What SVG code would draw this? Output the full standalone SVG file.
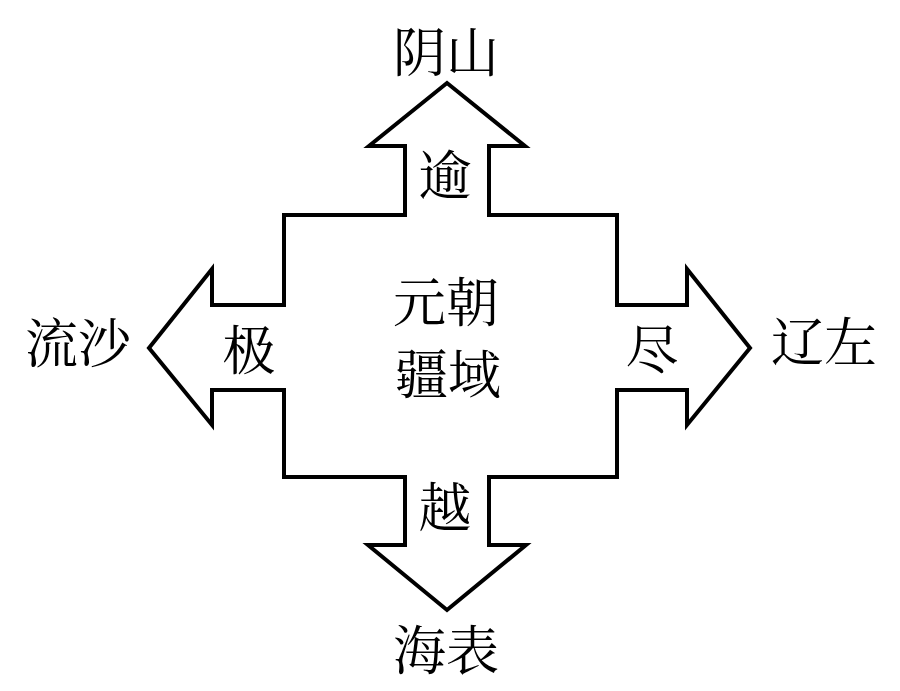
<svg xmlns="http://www.w3.org/2000/svg" width="900" height="691" viewBox="0 0 900 691">
<style>
.shape{fill:#fff;stroke:#000;stroke-width:4;stroke-linejoin:miter;stroke-miterlimit:10}
text{font-family:"Noto Serif CJK SC","Noto Sans CJK SC","Noto Sans CJK TC",serif;font-size:53px;fill:#000;text-anchor:middle;dominant-baseline:central}
</style>
<rect width="900" height="691" fill="#fff"/>
<g id="connectors">
<polygon id="cross-arrows" class="shape" points="284,215 405,215 405,146 369,146 447,83 525,146 489,146 489,215 617,215 617,305 687,305 687,269 750,348 687,425 687,390 617,390 617,477 489,477 489,545 526,545 447,610 368,545 405,545 405,477 284,477 284,390 212,390 212,425 149,348 212,269 212,305 284,305"/>
</g>
<g id="center"><text x="446" y="299">元朝</text><text x="448" y="371">疆域</text></g>
<g id="top-verb"><text x="445" y="172">逾</text></g>
<g id="left-verb"><text x="249" y="347">极</text></g>
<g id="right-verb"><text x="652" y="346">尽</text></g>
<g id="bottom-verb"><text x="445" y="504">越</text></g>
<g id="top"><text x="446" y="49">阴山</text></g>
<g id="left"><text x="78" y="340">流沙</text></g>
<g id="right"><text x="824" y="339">辽左</text></g>
<g id="bottom"><text x="446" y="647">海表</text></g>
</svg>
